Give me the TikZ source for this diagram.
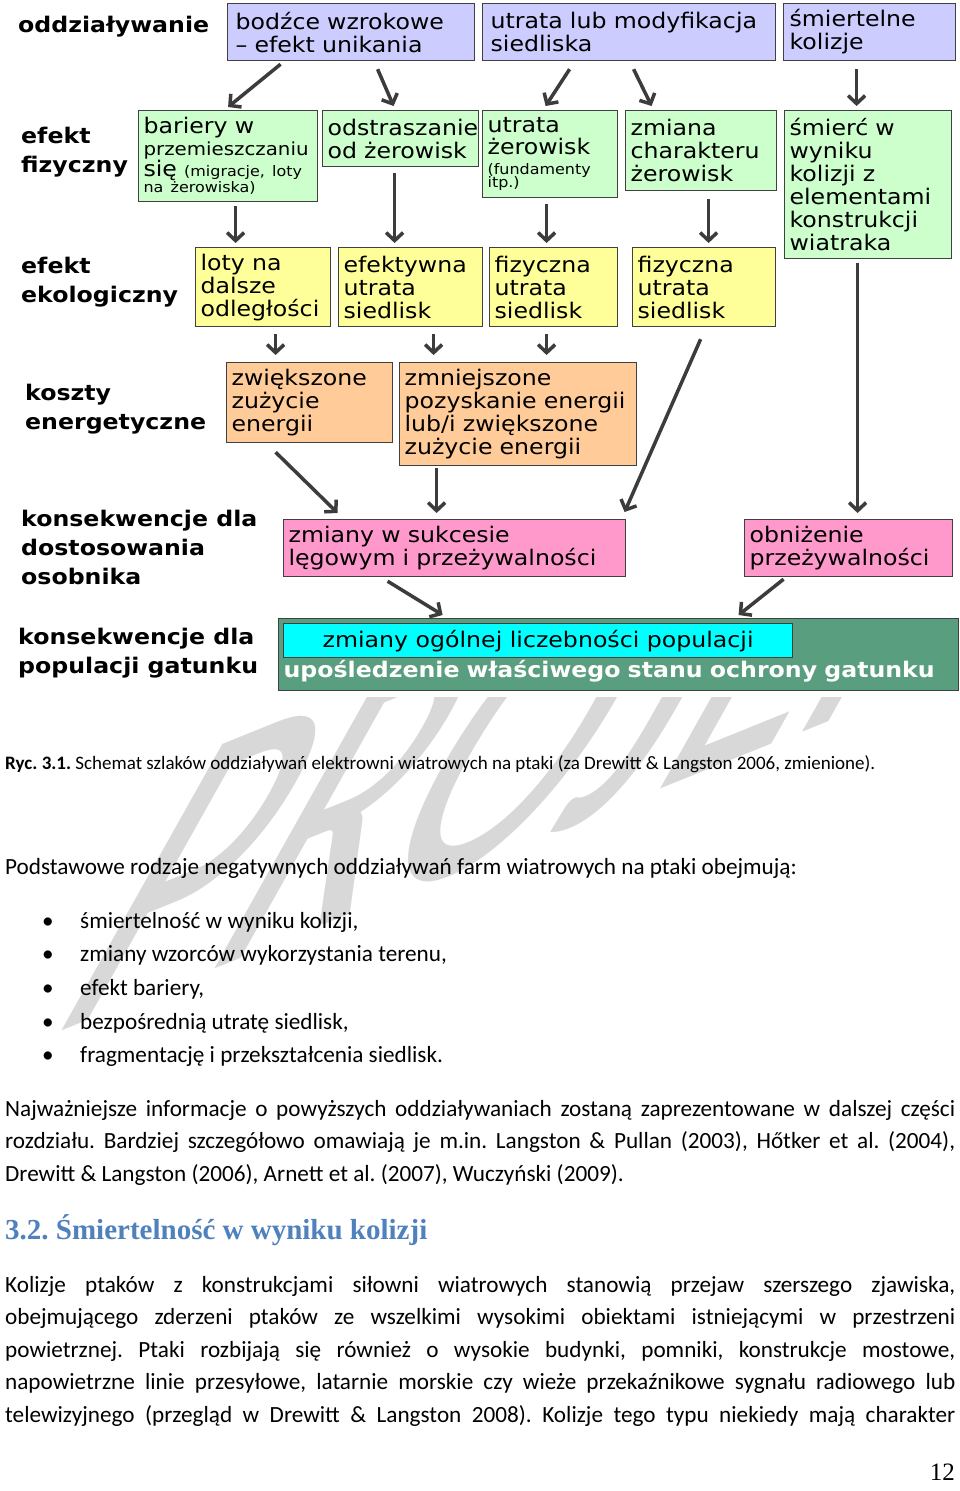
\documentclass[tikz,border=0pt]{standalone}
\usepackage{fontspec}
\setmainfont{Carlito}
\newfontfamily\vfont[FakeStretch=1.1]{DejaVu Sans}
\newfontfamily\headfont{Liberation Serif}
\usetikzlibrary{arrows.meta}
\definecolor{Edge}{HTML}{404040}
\definecolor{Stim}{HTML}{CCCCFF}
\definecolor{Phys}{HTML}{CCFFCC}
\definecolor{Eco}{HTML}{FFFF99}
\definecolor{Cost}{HTML}{FFCC99}
\definecolor{Indiv}{HTML}{FF99CC}
\definecolor{Popul}{HTML}{5A9E80}
\definecolor{Aqua}{HTML}{00FFFF}
\definecolor{Arrow}{HTML}{3C3C3C}
\definecolor{Heading}{HTML}{4F81BD}
\definecolor{Mark}{HTML}{D8D8D8}

\newcommand\dg{\vfont\fontsize{21.5}{23}\selectfont\lineskiplimit=-30pt\relax}
\newcommand\dgm{\fontsize{18}{20}\selectfont}
\newcommand\dgs{\fontsize{14.5}{14}\selectfont}
\newcommand\rowlab{\vfont\bfseries\fontsize{21.5}{29}\selectfont}
\newcommand\bodytext{\fontsize{23.2}{28}\selectfont}
\newcommand\captext{\fontsize{19}{23}\selectfont}
\frenchspacing

\begin{document}
\begin{tikzpicture}[x=1pt, y=-1pt,
    dgbox/.style={draw=Edge, line width=1.2pt, anchor=north west, inner xsep=5pt, inner ysep=0pt, align=left, font=\dg},
    stimbox/.style={dgbox, fill=Stim, inner xsep=8pt},
    physbox/.style={dgbox, fill=Phys},
    ecobox/.style={dgbox, fill=Eco},
    costbox/.style={dgbox, fill=Cost},
    indivbox/.style={dgbox, fill=Indiv},
    rowlabel/.style={anchor=west, inner sep=0pt, align=left, font=\rowlab},
    arr/.style={-{Straight Barb[length=8pt,width=17pt]}, line width=3.5pt, draw=Arrow},
    line/.style={anchor=base west, inner sep=0pt, font=\bodytext},
  ]
  \useasboundingbox (0,0) rectangle (960,1491);
  \fill[white] (0,0) rectangle (960,1491);

  % watermark behind the page text
  \begin{scope}
    \clip (0,697) rectangle (960,1491);
    \begin{scope}[shift={(40,1040)}, rotate=22, xslant=1.25]
      \node[transform shape, anchor=base west, inner sep=0pt, text=Mark, font=\fontsize{320}{320}\selectfont] (mark) at (0,0) {PROJEKT};
    \end{scope}
  \end{scope}

  % row labels
  \node[rowlabel] (lOdd) at (18,27) {oddziaływanie};
  \node[rowlabel] (lFiz) at (21,152) {efekt\\fizyczny};
  \node[rowlabel] (lEko) at (21,282) {efekt\\ekologiczny};
  \node[rowlabel] (lKos) at (25,409) {koszty\\energetyczne};
  \node[rowlabel] (lOsb) at (21,547) {konsekwencje dla\\dostosowania\\osobnika};
  \node[rowlabel] (lPop) at (18,653) {konsekwencje dla\\populacji gatunku};

  % impacts
  \node[stimbox, minimum width=247pt, minimum height=57pt, text width=231pt] (b1) at (227,3) {bodźce wzrokowe\\– efekt unikania};
  \node[stimbox, minimum width=293pt, minimum height=57pt, text width=277pt] (b2) at (482,3) {utrata lub modyfikacja\\siedliska};
  \node[stimbox, minimum width=172pt, minimum height=57pt, text width=160pt, inner xsep=6pt] (b3) at (783,3) {śmiertelne\\kolizje};

  % physical effect
  \node[physbox, minimum width=179pt, minimum height=91pt, text width=169pt] (g1) at (138,110)
    {bariery w\\[-1pt]{\dgm przemieszczaniu}\\[-2pt]się {\dgs (migracje, loty}\\[-7pt]{\dgs na żerowiska)}};
  \node[physbox, minimum width=156pt, minimum height=56pt, text width=146pt] (g2) at (322,110) {odstraszanie\\od żerowisk};
  \node[physbox, minimum width=135pt, minimum height=87pt, text width=125pt] (g3) at (482,110)
    {utrata\\[-1pt]żerowisk\\[-3pt]{\dgs (fundamenty}\\[-10pt]{\dgs itp.)}};
  \node[physbox, minimum width=151pt, minimum height=80pt, text width=141pt] (g4) at (625,110) {zmiana\\charakteru\\żerowisk};
  \node[physbox, minimum width=167pt, minimum height=148pt, text width=157pt] (g5) at (784,110)
    {śmierć w\\wyniku\\kolizji z\\elementami\\konstrukcji\\wiatraka};

  % ecological effect
  \node[ecobox, minimum width=135pt, minimum height=79pt, text width=125pt] (y1) at (195,247) {loty na\\dalsze\\odległości};
  \node[ecobox, minimum width=144pt, minimum height=79pt, text width=134pt] (y2) at (338,247) {efektywna\\utrata\\siedlisk};
  \node[ecobox, minimum width=128pt, minimum height=79pt, text width=118pt] (y3) at (489,247) {fizyczna\\utrata\\siedlisk};
  \node[ecobox, minimum width=143pt, minimum height=79pt, text width=133pt] (y4) at (632,247) {fizyczna\\utrata\\siedlisk};

  % energy costs
  \node[costbox, minimum width=166pt, minimum height=80pt, text width=156pt] (o1) at (226,362) {zwiększone\\zużycie\\energii};
  \node[costbox, minimum width=237pt, minimum height=103pt, text width=227pt] (o2) at (399,362)
    {zmniejszone\\pozyskanie energii\\lub/i zwiększone\\zużycie energii};

  % individual fitness
  \node[indivbox, minimum width=342pt, minimum height=57pt, text width=332pt] (p1) at (283,519) {zmiany w sukcesie\\lęgowym i przeżywalności};
  \node[indivbox, minimum width=208pt, minimum height=57pt, text width=198pt] (p2) at (744,519) {obniżenie\\przeżywalności};

  % population
  \node[dgbox, fill=Popul, minimum width=680pt, text width=670pt, text height=59pt, text depth=13pt, text=white, font=\dg\bfseries] (pop) at (278,618)
    {upośledzenie właściwego stanu ochrony gatunku};
  \node[dgbox, fill=Aqua, align=center, inner sep=0pt, minimum width=509pt, minimum height=34pt] (num) at (283,623) {zmiany ogólnej liczebności populacji};

  % arrows
  \draw[arr] ([xshift=-70.5pt,yshift=-3pt]b1.south) -- ([yshift=3pt]g1.north);
  \draw[arr] ([xshift=26.5pt,yshift=-8pt]b1.south) -- ([xshift=-7pt,yshift=4pt]g2.north);
  \draw[arr] ([xshift=-59.5pt,yshift=-8pt]b2.south) -- ([xshift=-4.5pt,yshift=4pt]g3.north);
  \draw[arr] ([xshift=4.5pt,yshift=-8pt]b2.south) -- ([xshift=-49.5pt,yshift=4pt]g4.north);
  \draw[arr] ([xshift=-13pt,yshift=-8pt]b3.south) -- ([xshift=-11.5pt,yshift=4pt]g5.north);
  \draw[arr] ([xshift=7.5pt,yshift=-4pt]g1.south) -- ([xshift=-27.5pt,yshift=4pt]y1.north);
  \draw[arr] ([xshift=-6pt,yshift=-6pt]g2.south) -- ([xshift=-16pt,yshift=4pt]y2.north);
  \draw[arr] ([xshift=-3.5pt,yshift=-6pt]g3.south) -- ([xshift=-7pt,yshift=4pt]y3.north);
  \draw[arr] ([xshift=7.5pt,yshift=-8pt]g4.south) -- ([xshift=4.5pt,yshift=4pt]y4.north);
  \draw[arr] ([xshift=12.5pt,yshift=-7pt]y1.south) -- ([xshift=-34pt,yshift=7pt]o1.north);
  \draw[arr] ([xshift=23pt,yshift=-7pt]y2.south) -- ([xshift=-84.5pt,yshift=7pt]o2.north);
  \draw[arr] ([xshift=-7pt,yshift=-7pt]y3.south) -- ([xshift=28.5pt,yshift=7pt]o2.north);
  \draw[arr] ([xshift=-3.5pt,yshift=-12pt]y4.south) -- ([xshift=170pt,yshift=7pt]p1.north);
  \draw[arr] ([xshift=-10.5pt,yshift=-4pt]g5.south) -- ([xshift=9pt,yshift=6pt]p2.north);
  \draw[arr] ([xshift=-34pt,yshift=-9pt]o1.south) -- ([xshift=-117pt,yshift=6pt]p1.north);
  \draw[arr] ([xshift=-81.5pt,yshift=-2pt]o2.south) -- ([xshift=-18pt,yshift=6pt]p1.north);
  \draw[arr] ([xshift=-67pt,yshift=-4pt]p1.south) -- ([xshift=-176pt,yshift=3pt]pop.north);
  \draw[arr] ([xshift=-65pt,yshift=-2pt]p2.south) -- ([xshift=120pt,yshift=3pt]pop.north);

  % caption and page text
  \node[line, font=\captext] (cap) at (5,769) {\textbf{Ryc. 3.1.} Schemat szlaków oddziaływań elektrowni wiatrowych na ptaki (za Drewitt \& Langston 2006, zmienione).};
  \node[line] (intro) at (5,874) {Podstawowe rodzaje negatywnych oddziaływań farm wiatrowych na ptaki obejmują:};
  \foreach \txt [count=\i] in {{śmiertelność w wyniku kolizji,}, {zmiany wzorców wykorzystania terenu,}, {efekt bariery,}, {bezpośrednią utratę siedlisk,}, {fragmentację i przekształcenia siedlisk.}} {
    \node[line] (dot\i) at (42,{928+(\i-1)*33.7}) {•};
    \node[line] (item\i) at (80,{928+(\i-1)*33.7}) {\txt};
  }
  \node[line] (pa1) at (5,1116) {\makebox[950pt][s]{Najważniejsze informacje o powyższych oddziaływaniach zostaną zaprezentowane w dalszej części}};
  \node[line] (pa2) at (5,1148.5) {\makebox[950pt][s]{rozdziału. Bardziej szczegółowo omawiają je m.in. Langston \& Pullan (2003), Hőtker et al. (2004),}};
  \node[line] (pa3) at (5,1181) {Drewitt \& Langston (2006), Arnett et al. (2007), Wuczyński (2009).};

  \node[line, font=\headfont\bfseries\fontsize{29}{31}\selectfont, text=Heading] (head) at (5,1239) {3.2. Śmiertelność w wyniku kolizji};

  \node[line] (pb1) at (5,1292) {\makebox[950pt][s]{Kolizje ptaków z konstrukcjami siłowni wiatrowych stanowią przejaw szerszego zjawiska,}};
  \node[line] (pb2) at (5,1324.5) {\makebox[950pt][s]{obejmującego zderzeni ptaków ze wszelkimi wysokimi obiektami istniejącymi w przestrzeni}};
  \node[line] (pb3) at (5,1357) {\makebox[950pt][s]{powietrznej. Ptaki rozbijają się również o wysokie budynki, pomniki, konstrukcje mostowe,}};
  \node[line] (pb4) at (5,1389.5) {\makebox[950pt][s]{napowietrzne linie przesyłowe, latarnie morskie czy wieże przekaźnikowe sygnału radiowego lub}};
  \node[line] (pb5) at (5,1422) {\makebox[950pt][s]{telewizyjnego (przegląd w Drewitt \& Langston 2008). Kolizje tego typu niekiedy mają charakter}};

  \node[anchor=base east, inner sep=0pt, font=\headfont\fontsize{25}{25}\selectfont] (pageno) at (955,1480) {12};
\end{tikzpicture}
\end{document}
